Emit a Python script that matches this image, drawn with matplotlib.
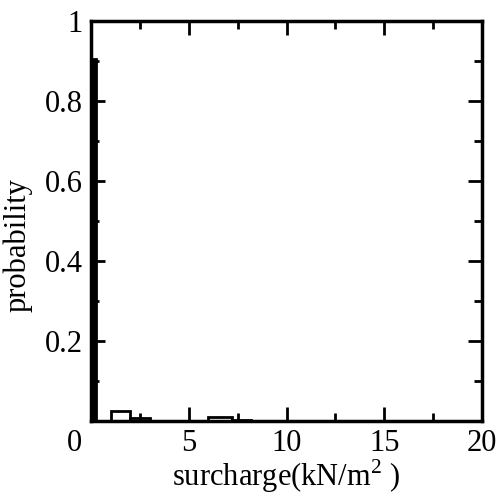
import matplotlib
matplotlib.use("Agg")
import matplotlib.pyplot as plt
from matplotlib.ticker import MultipleLocator
import matplotlib.transforms as mtransforms

# histogram bins (left edge, width) and probabilities
bin_left = [0.0, 1.0, 2.0, 2.5, 3.0, 6.0, 7.2]
bin_width = [0.25, 1.0, 0.5, 0.5, 3.0, 1.2, 1.0]
probability = [0.905, 0.025, 0.009, 0.009, 0.001, 0.010, 0.002]

x_ticks = [0, 5, 10, 15, 20]
x_ticklabels = ["0", "5", "10", "15", "20"]
y_ticks = [0.2, 0.4, 0.6, 0.8, 1.0]
y_ticklabels = ["0.2", "0.4", "0.6", "0.8", "1"]

plt.rcParams['font.family'] = ['Liberation Serif', 'DejaVu Serif']
plt.rcParams['mathtext.fontset'] = 'custom'
plt.rcParams['mathtext.rm'] = 'Liberation Serif'

fig = plt.figure(figsize=(5.01, 4.99), dpi=100)
ax = fig.add_axes([0.182, 0.156, 0.780, 0.802])

faces = ['black'] + ['white'] * (len(probability) - 1)
ax.bar(bin_left, probability, width=bin_width, align='edge',
       color=faces, edgecolor='black', linewidth=2.0)

ax.set_xlim(0, 20)
ax.set_ylim(0, 1)
ax.set_xticks(x_ticks)
ax.set_xticklabels(x_ticklabels)
ax.set_yticks(y_ticks)
ax.set_yticklabels(y_ticklabels)
ax.xaxis.set_minor_locator(MultipleLocator(2.5))
ax.yaxis.set_minor_locator(MultipleLocator(0.1))
ax.tick_params(which='both', direction='in', top=True, right=True,
               width=2, labelsize=22, pad=6)
ax.tick_params(which='major', length=10)
ax.tick_params(which='minor', length=6)
for s in ax.spines.values():
    s.set_linewidth(2.5)

# shift the "0" x label to the corner
lab0 = ax.get_xticklabels()[0]
offset = mtransforms.ScaledTranslation(-17/100, 0, fig.dpi_scale_trans)
lab0.set_transform(lab0.get_transform() + offset)

ax.set_xlabel("surcharge(kN/m$^{2}$ )", fontsize=22, labelpad=-1)
ax.set_ylabel("probability", fontsize=22)
ax.yaxis.set_label_coords(-0.15, 0.44)

fig.savefig("out.png", dpi=100)
